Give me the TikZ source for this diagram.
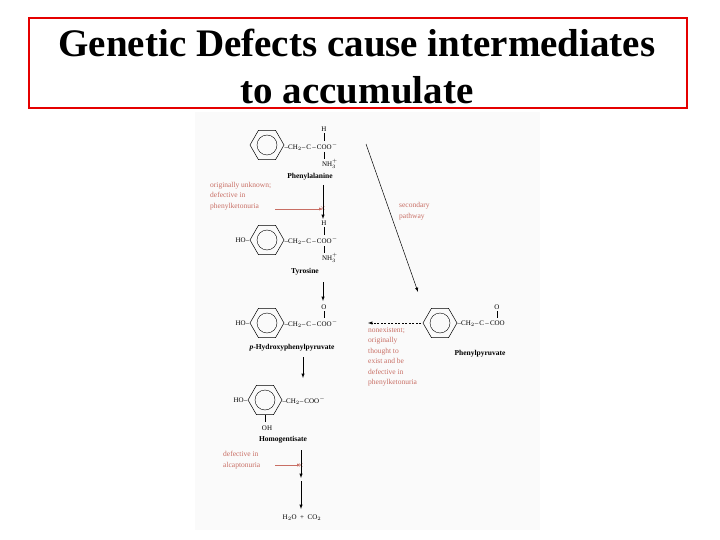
\documentclass[tikz,border=0pt]{standalone}
\usepackage{fontspec}
\setmainfont{Liberation Serif}
\begin{document}
\begin{tikzpicture}[x=1pt,y=-1pt,
 t/.style={font=\fontsize{7}{8}\selectfont,inner sep=0.5pt},
 nm/.style={font=\bfseries\fontsize{7.5}{8}\selectfont,inner sep=0.5pt},
 rd/.style={font=\fontsize{7.5}{10.5}\selectfont,text=pk,align=left,inner sep=0pt},
 arr/.style={-latex,line width=0.5pt},
 ttl/.style={font=\bfseries\fontsize{39}{42}\selectfont,text=black,inner sep=0pt}]
\definecolor{pk}{RGB}{200,110,100}
\useasboundingbox (0,0) rectangle (720,540);
\fill[gray!4] (195,112) rectangle (540,530);
\node[draw=red!90!black,line width=2.2pt,minimum width=658pt,minimum height=90pt,anchor=north west] (box) at (28,17) {};
\node[ttl] (t1) at (357,43) {Genetic Defects cause intermediates};
\node[ttl] (t2) at (357,90) {to accumulate};
\newcommand{\ring}[2]{\draw[line width=0.5pt] (#1)++(0:17) -- ++(120:17) -- ++(180:17) -- ++(240:17) -- ++(300:17) -- ++(0:17) -- cycle; \draw[line width=0.4pt] (#1) circle (10);}
% Phenylalanine
\coordinate (r1) at (267,145); \ring{r1}{}
\node[t,anchor=west] (f1) at (284,147) {--CH$_2$--\,C\,--\,COO$^-$};
\node[t] (f1h) at (324,129) {H};
\node[t] (f1n) at (330,164) {NH$_3^+$};
\draw[line width=0.3pt] (324,133)--(324,141) (324,152)--(324,159);
\node[nm] (phe) at (310,177) {Phenylalanine};
\node[rd,anchor=west] (red1) at (210,196) {originally unknown;\\defective in\\phenylketonuria};
\coordinate (x1) at (323,209);
\draw[pk,-latex,line width=0.4pt] (275,209) -- (x1);
\node[pk,font=\fontsize{8}{8}\selectfont] at (x1) {$\times$};
\draw[arr] (323,185) -- (323,219);
\draw[arr] (366,144) -- (418,292);
\node[rd,anchor=west] (sec) at (399,211) {secondary\\pathway};
% Tyrosine
\coordinate (r2) at (267,240); \ring{r2}{}
\node[t,anchor=east] (ho2) at (250,240) {HO--};
\node[t,anchor=west] (f2) at (284,241) {--CH$_2$--\,C\,--\,COO$^-$};
\node[t] (f2h) at (324,223) {H};
\node[t] (f2n) at (330,258) {NH$_3^+$};
\draw[line width=0.3pt] (324,227)--(324,235) (324,246)--(324,253);
\node[nm] (tyr) at (305,272) {Tyrosine};
\draw[arr] (323,282) -- (323,301);
% p-hydroxyphenylpyruvate
\coordinate (r3) at (267,323); \ring{r3}{}
\node[t,anchor=east] (ho3) at (250,323) {HO--};
\node[t,anchor=west] (f3) at (284,324) {--CH$_2$--\,C\,--\,COO$^-$};
\node[t] (f3o) at (324,307) {O};
\draw[line width=0.3pt] (324,311)--(324,318);
\node[nm] (hpp) at (292,348) {\textit{p}-Hydroxyphenylpyruvate};
% phenylpyruvate
\coordinate (r4) at (440,323); \ring{r4}{}
\node[t,anchor=west] (f4) at (457,324) {--CH$_2$--\,C\,--\,COO};
\node[t] (f4o) at (497,307) {O};
\draw[line width=0.3pt] (497,311)--(497,318);
\node[nm] (pp) at (480,354) {Phenylpyruvate};
\draw[arr,dashed,dash pattern=on 2pt off 1.5pt] (421,323) -- (368,323);
\node[rd,anchor=north west] (red2) at (368,327) {nonexistent;\\originally\\thought to\\exist and be\\defective in\\phenylketonuria};
% homogentisate
\draw[arr] (303,357) -- (303,378);
\coordinate (r5) at (265,400); \ring{r5}{}
\node[t,anchor=east] (ho5) at (248,400) {HO--};
\node[t,anchor=west] (f5) at (282,401) {--CH$_2$--\,COO$^-$};
\draw[line width=0.4pt] (265,415)--(265,422);
\node[t] (oh5) at (267,428) {OH};
\node[nm] (hg) at (283,440) {Homogentisate};
\node[rd,anchor=west] (red3) at (223,460) {defective in\\alcaptonuria};
\coordinate (x2) at (301,465);
\draw[pk,-latex,line width=0.4pt] (275,465) -- (x2);
\node[pk,font=\fontsize{8}{8}\selectfont] at (x2) {$\times$};
\draw[arr] (301,450) -- (301,478);
\draw[arr] (301,481) -- (301,509);
\node[t] (end) at (302,518) {H$_2$O\ \ +\ \ CO$_2$};
\end{tikzpicture}
\end{document}
